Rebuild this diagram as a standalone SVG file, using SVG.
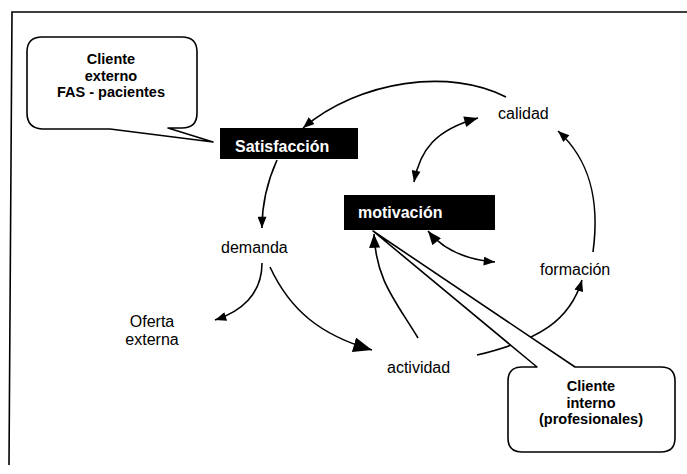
<svg xmlns="http://www.w3.org/2000/svg" width="687" height="474" viewBox="0 0 687 474">
<style>
.ln{fill:none;stroke:#000;stroke-width:1.6}
.call{fill:#fff;stroke:#000;stroke-width:1.6;stroke-linejoin:round}
.bt{font-family:"Liberation Sans",Arial,sans-serif;font-weight:bold;font-size:14.5px;fill:#000;text-anchor:middle}
.wt{font-family:"Liberation Sans",Arial,sans-serif;font-weight:bold;font-size:16px;fill:#fff}
.rt{font-family:"Liberation Sans",Arial,sans-serif;font-size:16px;fill:#000}
</style>
<defs>
<marker id="ah" viewBox="0 0 10 8" refX="10" refY="4" markerWidth="12" markerHeight="9" markerUnits="userSpaceOnUse" orient="auto-start-reverse"><path d="M0,0 L10,4 L0,8 Z" fill="#000"/></marker>
<marker id="ahm" viewBox="0 0 10 8" refX="10" refY="4" markerWidth="15" markerHeight="11" markerUnits="userSpaceOnUse" orient="auto-start-reverse"><path d="M0,0 L10,4 L0,8 Z" fill="#000"/></marker>
<marker id="ahb" viewBox="0 0 10 8" refX="10" refY="4" markerWidth="19" markerHeight="15" markerUnits="userSpaceOnUse" orient="auto"><path d="M0,0 L10,4 L0,8 Z" fill="#000"/></marker>
</defs>
<rect width="687" height="474" fill="#fff"/>
<g id="frame"><path class="ln" d="M687,12 H12 L9,465"/></g>
<g id="connectors">
<path class="ln" d="M506,97 C450,68 360,80 303,128" marker-end="url(#ah)"/>
<path class="ln" d="M277,160 C268,180 262,200 262,228" marker-end="url(#ah)"/>
<path class="ln" d="M414,182 C420,150 435,130 478,118" marker-start="url(#ah)" marker-end="url(#ahm)"/>
<path class="ln" d="M593,252 C600,200 590,160 558,131" marker-end="url(#ah)"/>
<path class="ln" d="M428,231 C445,252 470,260 495,262" marker-start="url(#ahm)" marker-end="url(#ah)"/>
<path class="ln" d="M270,267 C290,310 320,335 372,350" marker-end="url(#ahb)"/>
<path class="ln" d="M262,263 C262,295 240,312 215,320" marker-end="url(#ah)"/>
<path class="ln" d="M418,338 C395,300 376,280 374,234" marker-end="url(#ahm)"/>
<path class="ln" d="M477,355 C540,340 570,320 582,280" marker-end="url(#ah)"/>
</g>
<g id="cliente-externo">
<path class="call" d="M42,37 H182 Q197,37 197,52 V113 Q197,128 182,128 H168 L213,142 L110,129 H42 Q27,128 27,113 V52 Q27,37 42,37 Z"/>
<text class="bt" x="111" y="64">Cliente</text>
<text class="bt" x="111" y="81">externo</text>
<text class="bt" x="111" y="97">FAS - pacientes</text>
</g>
<g id="satisfaccion">
<rect x="220" y="128" width="138" height="31" fill="#000"/>
<text class="wt" x="235" y="152">Satisfacción</text>
</g>
<g id="motivacion">
<rect x="344" y="195" width="151" height="35" fill="#000"/>
<text class="wt" x="358" y="218">motivación</text>
</g>
<g id="calidad"><text class="rt" x="498" y="119">calidad</text></g>
<g id="demanda"><text class="rt" x="221" y="253">demanda</text></g>
<g id="oferta-externa">
<text class="rt" x="152" y="327" text-anchor="middle">Oferta</text>
<text class="rt" x="152" y="345" text-anchor="middle">externa</text>
</g>
<g id="actividad"><text class="rt" x="387" y="373">actividad</text></g>
<g id="formacion"><text class="rt" x="540" y="275">formación</text></g>
<g id="cliente-interno">
<path class="call" d="M522,367 H537 L373,231 L575,367 H661 Q675,367 675,381 V438 Q675,452 661,452 H522 Q508,452 508,438 V381 Q508,367 522,367 Z"/>
<text class="bt" x="591" y="391">Cliente</text>
<text class="bt" x="591" y="408">interno</text>
<text class="bt" x="591" y="424">(profesionales)</text>
</g>
</svg>
